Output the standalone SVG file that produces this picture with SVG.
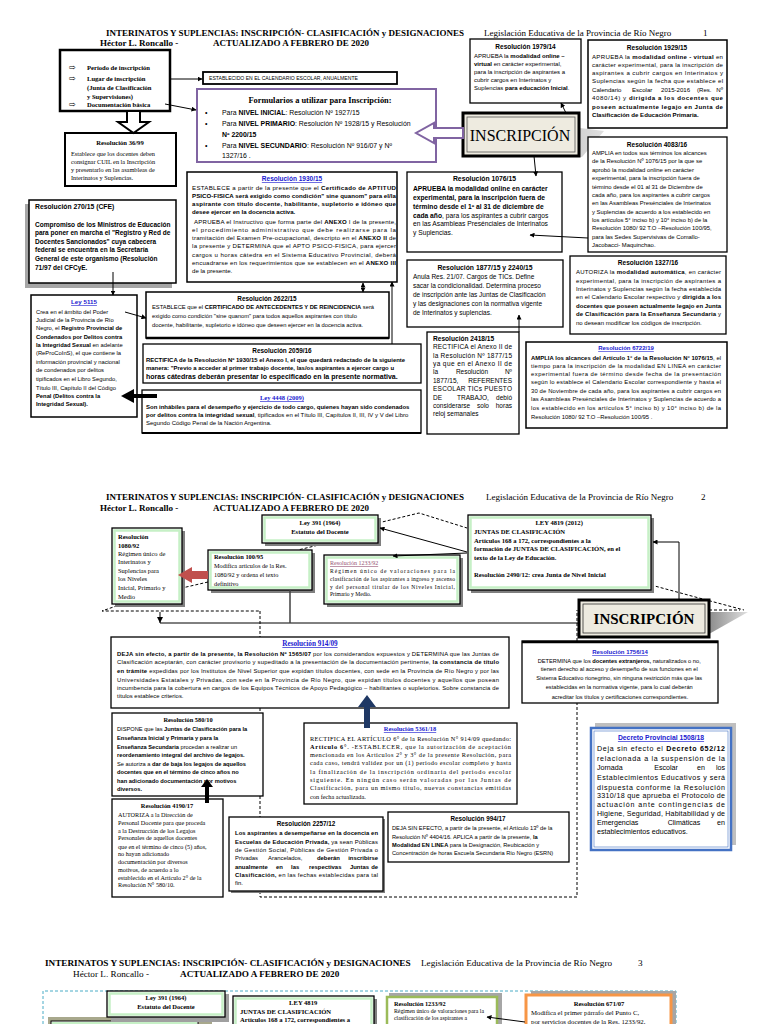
<svg xmlns="http://www.w3.org/2000/svg" width="768" height="1024" viewBox="0 0 768 1024">
<style>
.s{font-family:"Liberation Sans",Arial,sans-serif}
.t{font-family:"Liberation Serif","Times New Roman",serif}
.b{font-weight:bold}
.l{fill:#2020d0;text-decoration:underline}
.m{text-anchor:middle}
.e{text-anchor:end}
.bx{fill:#fff;stroke:#000;stroke-width:1.3}
.gb{fill:#fff;stroke:#000;stroke-width:1.3}
.gi{fill:none;stroke:#c6f0c6;stroke-width:2.5}
.sh{fill:#7f7f7f}
.ln{fill:none;stroke:#000;stroke-width:1}
.dl{fill:none;stroke:#000;stroke-width:1;stroke-dasharray:3 2}
</style>
<defs>
<marker id="ah" viewBox="0 0 10 10" refX="9" refY="5" markerWidth="5" markerHeight="5" orient="auto-start-reverse"><path d="M0,0 L10,5 L0,10 z"/></marker>
<linearGradient id="gs" x1="0" y1="0" x2="1" y2="0"><stop offset="0" stop-color="#8c8c8c"/><stop offset="1" stop-color="#e0e0e0"/></linearGradient>
</defs>
<rect width="768" height="1024" fill="#fff"/>

<!-- ================= PAGE 1 ================= -->
<g id="header1">
<text class="t b" x="106" y="36" font-size="9">INTERINATOS Y SUPLENCIAS: INSCRIPCIÓN- CLASIFICACIÓN y DESIGNACIONES</text>
<text class="t" x="484" y="36" font-size="9">Legislación Educativa de la Provincia de Río Negro</text>
<text class="t" x="703" y="36" font-size="9">1</text>
<text class="t b" x="100" y="46" font-size="9">Héctor L. Roncallo -</text>
<text class="t b" x="213" y="46" font-size="9">ACTUALIZADO A FEBRERO DE 2020</text>
</g>

<g id="n-periodo">
<rect x="60" y="50" width="110" height="61" fill="#fff" stroke="#000" stroke-width="2.5"/>
<text x="69" y="70" font-size="8" font-family="DejaVu Sans">⇨</text>
<text x="69" y="81" font-size="8" font-family="DejaVu Sans">⇨</text>
<text x="69" y="107" font-size="8" font-family="DejaVu Sans">⇨</text>
<text class="t b" font-size="6.6" x="87"><tspan x="87" y="70">Período de inscripción</tspan><tspan x="87" y="81">Lugar de inscripción</tspan><tspan x="87" y="90">(Junta de Clasificación</tspan><tspan x="87" y="99">y Supervisiones)</tspan><tspan x="87" y="107">Documentación básica</tspan></text>
</g>

<g id="n-calendario">
<rect x="203" y="72" width="194" height="12" fill="#fff" stroke="#000" stroke-width="1.8"/>
<text class="s" x="209" y="80" font-size="5.1">ESTABLECIDO EN EL CALENDARIO ESCOLAR, ANUALMENTE</text>
</g>

<g id="n-formularios">
<rect x="197" y="89" width="239" height="73" fill="#fff" stroke="#8064a2" stroke-width="2"/>
<text class="t b m" x="320" y="103" font-size="8.4">Formularios a utilizar para Inscripción:</text>
<text class="s" x="205" y="115" font-size="7">•</text>
<text class="s" x="205" y="126" font-size="7">•</text>
<text class="s" x="205" y="148" font-size="7">•</text>
<text class="s" font-size="6.9" x="222" y="115">Para <tspan class="b">NIVEL INICIAL</tspan>: Resolución Nº 1927/15</text>
<text class="s" font-size="6.9" x="222" y="126">Para <tspan class="b">NIVEL PRIMARIO</tspan>: Resolución Nº 1928/15 y Resolución</text>
<text class="s b" font-size="6.9" x="222" y="137">Nº 2200/15</text>
<text class="s" font-size="6.9" x="222" y="148">Para <tspan class="b">NIVEL SECUNDARIO</tspan>: Resolución Nº 916/07 y Nº</text>
<text class="s" font-size="6.9" x="222" y="158">1327/16 .</text>
</g>

<g id="n-36-99">
<rect x="65" y="133" width="111" height="53" fill="#fff" stroke="#000" stroke-width="2"/>
<text class="t b m" x="120" y="145" font-size="6.6">Resolución 36/99</text>
<text class="t" font-size="6.3"><tspan x="71" y="156">Establece que los docentes deben</tspan><tspan x="71" y="164">consignar CUIL en la Inscripción</tspan><tspan x="71" y="172">y presentarlo en las asambleas de</tspan><tspan x="71" y="180">Interinatos y Suplencias.</tspan></text>
</g>

<g id="n-1979-14">
<rect x="470" y="39" width="111" height="64" class="bx"/>
<text class="s b m" x="525.5" y="49" font-size="6.5">Resolución 1979/14</text>
<text class="s" font-size="6">
<tspan x="474" y="58">APRUEBA la <tspan class="b">modalidad online –</tspan></tspan>
<tspan x="474" y="66"><tspan class="b">virtual</tspan> en carácter experimental,</tspan>
<tspan x="474" y="74">para la inscripción de aspirantes a</tspan>
<tspan x="474" y="82">cubrir cargos en Interinatos y</tspan>
<tspan x="474" y="90">Suplencias <tspan class="b">para educación Inicial</tspan>.</tspan>
</text>
</g>

<g id="n-1929-15">
<rect x="588" y="40" width="139" height="88" fill="#fff" stroke="#000" stroke-width="1.5"/>
<text class="s b m" x="657" y="50" font-size="6.5">Resolución 1929/15</text>
<g class="s" font-size="6.1">
<text x="592" y="59" textLength="131">APRUEBA la <tspan class="b">modalidad online - virtual</tspan> en</text>
<text x="592" y="67" textLength="131">carácter experimental, para la inscripción de</text>
<text x="592" y="75" textLength="131">aspirantes a cubrir cargos en Interinatos y</text>
<text x="592" y="83" textLength="131">Suplencias según la fecha que establece el</text>
<text x="592" y="92">Calendario</text><text x="632" y="92">Escolar</text><text x="661" y="92">2015-2016</text><text x="697" y="92">(Res.</text><text class="e" x="723" y="92">Nº</text>
<text x="592" y="100" textLength="131">4080/14) y <tspan class="b">dirigida a los docentes que</tspan></text>
<text x="592" y="109" textLength="131" class="b">poseen actualmente legajo en Junta de</text>
<text x="592" y="117" class="b">Clasificación de Educación Primaria.</text>
</g>
</g>

<g id="n-inscripcion1">
<polygon points="466,157 582,157 604,131 580,128" fill="url(#gs)"/>
<rect x="463" y="113" width="116" height="43" fill="#eeebe0" stroke="#000" stroke-width="3"/>
<rect x="467" y="117" width="108" height="35" fill="none" stroke="#555" stroke-width="0.8"/>
<text class="t m" x="520" y="141" font-size="16">INSCRIPCIÓN</text>
<polygon points="463,128 434,128 434,123 416,133 434,143 434,138 463,138" fill="#fff" stroke="#8064a2" stroke-width="2"/>
</g>

<g id="n-4083-16">
<rect x="588" y="137" width="139" height="115" class="bx"/>
<text class="s b m" x="657" y="147" font-size="6.5">Resolución 4083/16</text>
<text class="s" font-size="5.9">
<tspan x="592" y="155">AMPLIA en todos sus términos los alcances</tspan>
<tspan x="592" y="163">de la Resolución Nº 1076/15 por la que se</tspan>
<tspan x="592" y="172">aprobó la modalidad online en carácter</tspan>
<tspan x="592" y="180">experimental, para la inscripción fuera de</tspan>
<tspan x="592" y="189">término desde el 01 al 31 de Diciembre de</tspan>
<tspan x="592" y="197">cada año, para los aspirantes a cubrir cargos</tspan>
<tspan x="592" y="205">en las Asambleas Presénciales de Interinatos</tspan>
<tspan x="592" y="214">y Suplencias de acuerdo a los establecido en</tspan>
<tspan x="592" y="222">los artículos 5° inciso b) y 10° inciso b) de la</tspan>
<tspan x="592" y="230">Resolución 1080/ 92 T.O –Resolución 100/95,</tspan>
<tspan x="592" y="239">para las Sedes Supervisivas de Comallo-</tspan>
<tspan x="592" y="247">Jacobacci- Maquinchao.</tspan>
</text>
</g>

<g id="n-1076-15">
<rect x="407" y="172" width="155" height="80" class="bx"/>
<text class="s b m" x="484.5" y="181" font-size="6.8">Resolución 1076/15</text>
<text class="s" font-size="6.7">
<tspan x="413" y="191" class="b">APRUEBA la modalidad online en carácter</tspan>
<tspan x="413" y="200" class="b">experimental, para la inscripción fuera de</tspan>
<tspan x="413" y="209" class="b">término desde el 1º al 31 de diciembre de</tspan>
<tspan x="413" y="218"><tspan class="b">cada año</tspan>, para los aspirantes a cubrir cargos</tspan>
<tspan x="413" y="226">en las Asambleas Presénciales de Interinatos</tspan>
<tspan x="413" y="235">y Suplencias.</tspan>
</text>
</g>

<g id="n-1877-15">
<rect x="407" y="260" width="156" height="67" class="bx"/>
<text class="s b m" x="485" y="270" font-size="6.8">Resolución 1877/15 y 2240/15</text>
<text class="s" font-size="6.5">
<tspan x="413" y="279">Anula Res. 21/07. Cargos de TICs. Define</tspan>
<tspan x="413" y="288">sacar la condicionalidad.  Determina proceso</tspan>
<tspan x="413" y="297">de inscripción ante las Juntas de Clasificación</tspan>
<tspan x="413" y="306">y las designaciones con la normativa vigente</tspan>
<tspan x="413" y="315">de Interinatos y suplencias.</tspan>
</text>
</g>

<g id="n-1327-16">
<rect x="570" y="256" width="156" height="78" class="bx"/>
<text class="s b m" x="648" y="265" font-size="6.5">Resolución 1327/16</text>
<g class="s" font-size="6">
<text x="576" y="274" textLength="145">AUTORIZA la <tspan class="b">modalidad automática</tspan>, en carácter</text>
<text x="576" y="283" textLength="145">experimental, para la inscripción de aspirantes a</text>
<text x="576" y="291" textLength="145">Interinatos y Suplencias según la fecha establecida</text>
<text x="576" y="299" textLength="145">en el Calendario Escolar respectivo y <tspan class="b">dirigida a los</tspan></text>
<text x="576" y="308" textLength="145" class="b">docentes que poseen actualmente legajo en Junta</text>
<text x="576" y="316" textLength="145"><tspan class="b">de Clasificación para la Enseñanza Secundaria</tspan> y</text>
<text x="576" y="325">no desean modificar los códigos de inscripción.</text>
</g>
</g>

<g id="n-2418-15">
<rect x="427" y="332" width="92" height="102" class="bx"/>
<text class="s b" x="433" y="341" font-size="6.6">Resolución 2418/15</text>
<g class="s" font-size="6.5">
<text x="433" y="349" textLength="79">RECTIFICA el Anexo II de</text>
<text x="433" y="358" textLength="79">la Resolución Nº 1877/15</text>
<text x="433" y="366" textLength="79">ya que en el Anexo II de</text>
<text x="433" y="374">la</text><text class="m" x="472" y="374">Resolución</text><text class="e" x="512" y="374">Nº</text>
<text x="433" y="383">1877/15,</text><text class="e" x="512" y="383">REFERENTES</text>
<text x="433" y="391" textLength="79">ESCOLAR TICs PUESTO</text>
<text x="433" y="400">DE</text><text class="m" x="473" y="400">TRABAJO,</text><text class="e" x="512" y="400">debió</text>
<text x="433" y="408">considerarse</text><text class="m" x="483" y="408">solo</text><text class="e" x="512" y="408">horas</text>
<text x="433" y="416">reloj semanales</text>
</g>
</g>

<g id="n-6722-19">
<rect x="526" y="342" width="201" height="86" fill="#fff" stroke="#000" stroke-width="1.5"/>
<text class="s b m l" x="626" y="350" font-size="6">Resolución 6722/19</text>
<g class="s" font-size="5.9">
<text x="531" y="360" textLength="190"><tspan class="b">AMPLIA los alcances del Artículo 1° de la Resolución N° 1076/15</tspan>, el</text>
<text x="531" y="368" textLength="190">tiempo para la inscripción de la modalidad EN LINEA en carácter</text>
<text x="531" y="376" textLength="190">experimental fuera de término desde fecha de la presentación</text>
<text x="531" y="384" textLength="190">según lo establece el Calendario Escolar correspondiente y hasta el</text>
<text x="531" y="393" textLength="190">30 de Noviembre de cada año, para los aspirantes a cubrir cargos en</text>
<text x="531" y="401" textLength="190">las Asambleas Presénciales de Interinatos y Suplencias de acuerdo a</text>
<text x="531" y="410" textLength="190">los establecido en los artículos 5° inciso b) y 10° inciso b) de la</text>
<text x="531" y="419">Resolución 1080/ 92 T.O –Resolución 100/95 .</text>
</g>
</g>

<g id="n-1930-15">
<rect x="187" y="172" width="210" height="110" fill="#fff" stroke="#000" stroke-width="1.5"/>
<text class="s b m l" x="292" y="181" font-size="6.5">Resolución 1930/15</text>
<g class="s" font-size="6.1">
<text x="192" y="190" textLength="204">ESTABLECE a partir de la presente que el <tspan class="b">Certificado de APTITUD</tspan></text>
<text x="192" y="198" textLength="204" class="b">PSICO-FISICA será exigido como condición" sine quanom" para el/la</text>
<text x="192" y="206" textLength="204" class="b">aspirante con título docente, habilitante, supletorio e idóneo que</text>
<text x="192" y="214" class="b">desee ejercer en la docencia activa.</text>
<text x="194" y="224" textLength="202">APRUEBA el Instructivo que forma parte del <tspan class="b">ANEXO</tspan> I de la presente,</text>
<text x="192" y="232" textLength="204">el procedimiento administrativo que debe realizarse para la</text>
<text x="192" y="240" textLength="204">tramitación del Examen Pre-ocupacional, descripto en el <tspan class="b">ANEXO II</tspan> de</text>
<text x="192" y="248" textLength="204">la presente y DETERMINA que el APTO PSICO-FISICA, para ejercer</text>
<text x="192" y="257" textLength="204">cargos u horas cátedra en el Sistema Educativo Provincial, deberá</text>
<text x="192" y="265" textLength="204">encuadrarse en los requerimientos que se establecen en el <tspan class="b">ANEXO III</tspan></text>
<text x="192" y="273">de la presente.</text>
</g>
</g>

<g id="n-270-15">
<rect x="25" y="204" width="147" height="84" fill="#a6a6a6"/>
<rect x="29" y="200" width="147" height="83" fill="#fff" stroke="#000" stroke-width="1.5"/>
<text class="s b" x="35" y="209" font-size="6.8">Resolución 270/15 (CFE)</text>
<text class="s b" font-size="6.5">
<tspan x="35" y="227">Compromiso de los Ministros de Educación</tspan>
<tspan x="35" y="235">para poner en marcha el "Registro y Red de</tspan>
<tspan x="35" y="244">Docentes Sancionados" cuya cabecera</tspan>
<tspan x="35" y="252">federal se encuentra en la Secretaría</tspan>
<tspan x="35" y="261">General de este organismo (Resolución</tspan>
<tspan x="35" y="270">71/97 del CFCyE.</tspan>
</text>
</g>

<g id="n-ley-5115">
<rect x="31" y="295" width="106" height="122" fill="#fff" stroke="#000" stroke-width="1.5"/>
<text class="s b m l" x="84" y="304" font-size="6.2">Ley 5115</text>
<text class="s" font-size="5.8">
<tspan x="36" y="314">Crea en el ámbito del Poder</tspan>
<tspan x="36" y="322">Judicial de la Provincia de Río</tspan>
<tspan x="36" y="330">Negro, el <tspan class="b">Registro Provincial de</tspan></tspan>
<tspan x="36" y="339" class="b">Condenados por Delitos contra</tspan>
<tspan x="36" y="347"><tspan class="b">la Integridad Sexual</tspan> en adelante</tspan>
<tspan x="36" y="355">(ReProCoInS), el que contiene la</tspan>
<tspan x="36" y="364">información provincial y nacional</tspan>
<tspan x="36" y="372">de condenados por delitos</tspan>
<tspan x="36" y="381">tipificados en el Libro Segundo,</tspan>
<tspan x="36" y="390">Título III, Capítulo II del Código</tspan>
<tspan x="36" y="398" class="b">Penal (Delitos contra la</tspan>
<tspan x="36" y="406" class="b">Integridad Sexual).</tspan>
</text>
</g>

<g id="n-2622-15">
<rect x="146" y="292" width="243" height="46" fill="#fff" stroke="#000" stroke-width="1.5"/>
<line x1="146" y1="338" x2="389" y2="338" stroke="#000" stroke-width="2.5"/>
<text class="s b m" x="267" y="301" font-size="6.4">Resolución 2622/15</text>
<text class="s" font-size="5.8">
<tspan x="152" y="309">ESTABLECE que el <tspan class="b">CERTIFICADO DE ANTECEDENTES Y DE REINCIDENCIA</tspan> será</tspan>
<tspan x="152" y="318">exigido como condición "sine quanom" para todos aquellos aspirantes con título</tspan>
<tspan x="152" y="327">docente, habilitante, supletorio e idóneo que deseen ejercer en la docencia activa.</tspan>
</text>
</g>

<g id="n-2059-16">
<rect x="143" y="344" width="278" height="39" class="bx"/>
<text class="s b m" x="282" y="353" font-size="6.4">Resolución 2059/16</text>
<text class="s b" font-size="5.95">
<tspan x="146" y="362">RECTIFICA de la Resolución Nº 1930/15 el Anexo I, el que quedará redactado de la siguiente</tspan>
<tspan x="146" y="370">manera: "Previo a acceder al primer trabajo docente, las/os aspirantes a ejercer cargo u</tspan>
</text>
<text class="s b" x="146" y="379" font-size="7">horas cátedras deberán  presentar lo especificado en la presente normativa.</text>
</g>

<g id="n-ley-4448">
<rect x="142" y="390" width="279" height="43" class="bx"/>
<line x1="142" y1="433" x2="421" y2="433" stroke="#000" stroke-width="2.2"/>
<text class="t b m l" x="282" y="400" font-size="6.5">Ley 4448 (2009)</text>
<text class="s" font-size="6">
<tspan x="146" y="409" class="b">Son inhábiles para el desempeño y ejercicio de todo cargo, quienes hayan sido condenados</tspan>
<tspan x="146" y="417"><tspan class="b">por delitos contra la integridad sexual</tspan>, tipificados en el Título III, Capítulos II, III, IV y V del Libro</tspan>
<tspan x="146" y="425">Segundo Código Penal de la Nación Argentina.</tspan>
</text>
</g>

<g id="connectors-p1">
<line class="ln" x1="170" y1="79" x2="202" y2="79" stroke-width="1.5" marker-end="url(#ah)"/>
<line class="ln" x1="165" y1="104" x2="196" y2="110" stroke-width="1.3" marker-end="url(#ah)"/>
<polygon points="127,111 140,111 140,122 149,122 133.5,133 118,122 127,122" fill="#fff" stroke="#000" stroke-width="2"/>
<line class="ln" x1="566" y1="113" x2="561" y2="103" marker-end="url(#ah)"/>
<line class="ln" x1="534" y1="156" x2="536" y2="176" marker-end="url(#ah)"/>
<line class="ln" x1="588" y1="238" x2="530" y2="235" marker-end="url(#ah)"/>
<line class="ln" x1="113" y1="272" x2="113" y2="295" marker-end="url(#ah)"/>
<line class="ln" x1="363" y1="283" x2="363" y2="292" marker-start="url(#ah)" marker-end="url(#ah)"/>
<line class="ln" x1="392" y1="344" x2="392" y2="282" marker-end="url(#ah)"/>
<line class="ln" x1="125" y1="312" x2="146" y2="318" marker-end="url(#ah)"/>
<line x1="157" y1="396" x2="132" y2="396" stroke="#000" stroke-width="4"/>
<polygon points="134,389 121,396 134,403" fill="#000"/>
<line class="ln" x1="519" y1="332" x2="519" y2="315" marker-end="url(#ah)"/>
</g>

<!-- ================= PAGE 2 ================= -->
<g id="header2">
<text class="t b" x="106" y="500" font-size="9">INTERINATOS Y SUPLENCIAS: INSCRIPCIÓN- CLASIFICACIÓN y DESIGNACIONES</text>
<text class="t" x="486" y="500" font-size="9">Legislación Educativa de la Provincia de Río Negro</text>
<text class="t" x="701" y="500" font-size="9">2</text>
<text class="t b" x="100" y="511" font-size="9">Héctor L. Roncallo -</text>
<text class="t b" x="213" y="511" font-size="9">ACTUALIZADO A FEBRERO DE 2020</text>
</g>

<g id="connectors-p2-dashed">
<polyline class="dl" points="378,523 419,513 467,528"/>
<line class="dl" x1="327" y1="543" x2="298" y2="550"/>
<line class="dl" x1="208" y1="582" x2="182" y2="588"/>
<polyline class="dl" points="122,604 102,611 260,611"/>
<path class="dl" d="M260,611 V637 M260,708 V713 M260,796 V817 M260,891 V897 H577 V703 M577,641 V610"/>
<polyline class="dl" points="651,585 699,598 744,610"/>
<line class="dl" x1="709" y1="610" x2="740" y2="610"/>
</g>

<g id="n-ley-391">
<rect x="265" y="518" width="116" height="28" class="sh"/>
<rect x="262" y="515" width="116" height="28" class="gb"/>
<rect x="264.5" y="517.5" width="111" height="23" class="gi"/>
<text class="t b m" x="320" y="525" font-size="6.5">Ley 391 (1964)</text>
<text class="t b m" x="320" y="534" font-size="6.5">Estatuto del Docente</text>
</g>

<g id="n-1080-92">
<rect x="115" y="531" width="70" height="76" class="sh"/>
<rect x="112" y="528" width="70" height="76" class="gb"/>
<rect x="114.5" y="530.5" width="65" height="71" class="gi"/>
<text class="t" font-size="6.5">
<tspan x="118" y="539" class="b">Resolución</tspan>
<tspan x="118" y="548" class="b">1080/92</tspan>
<tspan x="118" y="556">Régimen único de</tspan>
<tspan x="118" y="564">Interinatos y</tspan>
<tspan x="118" y="573">Suplencias para</tspan>
<tspan x="118" y="581">los Niveles</tspan>
<tspan x="118" y="590">Inicial, Primario y</tspan>
<tspan x="118" y="599">Medio</tspan>
</text>
</g>

<g id="n-100-95">
<rect x="211" y="553" width="104" height="40" class="sh"/>
<rect x="208" y="550" width="104" height="40" class="gb"/>
<rect x="210.5" y="552.5" width="99" height="35" class="gi"/>
<text class="t b" x="214" y="559" font-size="6.4">Resolución 100/95</text>
<text class="t" font-size="6.3">
<tspan x="214" y="568">Modifica artículos de la Res.</tspan>
<tspan x="214" y="577">1080/92 y ordena el texto</tspan>
<tspan x="214" y="586">definitivo</tspan>
</text>
</g>

<g id="n-1233-92">
<rect x="327" y="558" width="136" height="49" class="sh"/>
<rect x="324" y="555" width="136" height="49" class="gb"/>
<rect x="326.5" y="557.5" width="131" height="44" class="gi"/>
<text class="t" x="330" y="565" font-size="6" fill="#954f72" text-decoration="underline">Resolución 1233/92</text>
<g class="t" font-size="5.6">
<text x="330" y="573" textLength="125">Régimen único de valoraciones para la</text>
<text x="330" y="581" textLength="125">clasificación de los aspirantes a ingreso y ascenso</text>
<text x="330" y="589" textLength="125">y del personal titular de los Niveles Inicial,</text>
<text x="330" y="596">Primario y Medio.</text>
</g>
</g>

<g id="n-ley-4819">
<rect x="471" y="518" width="183" height="75" class="sh"/>
<rect x="468" y="515" width="183" height="75" class="gb"/>
<rect x="470.5" y="517.5" width="178" height="70" class="gi"/>
<text class="t b" font-size="6.6">
<tspan x="560" y="525" text-anchor="middle">LEY 4819 (2012)</tspan>
<tspan x="474" y="534">JUNTAS DE CLASIFICACIÓN</tspan>
<tspan x="474" y="543">Artículos 168 a 172, correspondientes a la</tspan>
<tspan x="474" y="551">formación de JUNTAS DE CLASIFICACIÓN, en el</tspan>
<tspan x="474" y="560">texto de la Ley de Educación.</tspan>
<tspan x="474" y="577">Resolución 2490/12: crea Junta de Nivel Inicial</tspan>
</text>
</g>

<g id="n-inscripcion2">
<polygon points="709,612 748,612 709,634" fill="url(#gs)"/>
<rect x="579" y="600" width="130" height="37" fill="#eeebe0" stroke="#000" stroke-width="3"/>
<rect x="583" y="604" width="122" height="29" fill="none" stroke="#333" stroke-width="0.8"/>
<text class="t b m" x="644" y="624" font-size="15">INSCRIPCIÓN</text>
</g>

<g id="n-914-09">
<rect x="111" y="637" width="398" height="71" class="bx"/>
<text class="t b m l" x="310" y="646" font-size="7.2">Resolución 914/09</text>
<g class="s" font-size="5.9">
<text x="117" y="656" textLength="382"><tspan class="b">DEJA  sin efecto, a partir de la presente, la Resolución Nº 1565/07</tspan> por los considerandos expuestos y DETERMINA que  las Juntas de</text>
<text x="117" y="664" textLength="382">Clasificación  aceptarán,  con  carácter provisorio y supeditado a la presentación de la documentación pertinente, <tspan class="b">la constancia de título</tspan></text>
<text x="117" y="673" textLength="382"><tspan class="b">en trámite</tspan> expedidas por los Institutos de Nivel Superior que expidan títulos docentes, con sede en la Provincia de Río Negro y por las</text>
<text x="117" y="682" textLength="382">Universidades Estatales y Privadas, con sede  en  la Provincia de Río Negro, que expidan títulos docentes y aquellos que posean</text>
<text x="117" y="690" textLength="382">incumbencia para la cobertura en cargos de los Equipos Técnicos de Apoyo Pedagógico – habilitantes o supletorios. Sobre constancia de</text>
<text x="117" y="698">títulos establece criterios.</text>
</g>
</g>

<g id="n-1756-14">
<rect x="522" y="641" width="196" height="62" class="bx"/>
<line x1="522" y1="642" x2="718" y2="642" stroke="#000" stroke-width="2.5"/>
<text class="s b m l" x="620" y="654" font-size="6">Resolución 1756/14</text>
<text class="s m" font-size="5.7">
<tspan x="620" y="663">DETERMINA que los <tspan class="b">docentes extranjeros,</tspan> naturalizados o no,</tspan>
<tspan x="620" y="671">tienen derecho al acceso y desempeño de sus funciones en el</tspan>
<tspan x="620" y="680">Sistema Educativo rionegrino, sin ninguna restricción más que las</tspan>
<tspan x="620" y="689">establecidas en la normativa vigente, para lo cual deberán</tspan>
<tspan x="620" y="699">acreditar los títulos y certificaciones correspondientes.</tspan>
</text>
</g>

<g id="n-580-10">
<rect x="112" y="713" width="151" height="83" class="bx"/>
<text class="t b m" x="188" y="722" font-size="6.4">Resolución 580/10</text>
<text class="s" font-size="5.7">
<tspan x="117" y="731">DISPONE que las <tspan class="b">Juntas de Clasificación para la</tspan></tspan>
<tspan x="117" y="740" class="b">Enseñanza Inicial y Primaria y   para la</tspan>
<tspan x="117" y="749"><tspan class="b">Enseñanza Secundaria</tspan> procedan a realizar un</tspan>
<tspan x="117" y="757" class="b">reordenamiento integral del archivo de legajos.</tspan>
<tspan x="117" y="766">Se autoriza a <tspan class="b">dar de baja los legajos de aquellos</tspan></tspan>
<tspan x="117" y="774" class="b">docentes que en el término de cinco años no</tspan>
<tspan x="117" y="783" class="b">han adicionado documentación por motivos</tspan>
<tspan x="117" y="791" class="b">diversos.</tspan>
</text>
</g>

<g id="n-4190-17">
<rect x="112" y="799" width="111" height="98" class="bx"/>
<text class="t b m" x="167" y="808" font-size="6.4">Resolución 4190/17</text>
<text class="t" font-size="6.2">
<tspan x="118" y="817">AUTORIZA a la Dirección de</tspan>
<tspan x="118" y="825">Personal Docente para que proceda</tspan>
<tspan x="118" y="833">a la Destrucción de los Legajos</tspan>
<tspan x="118" y="840">Personales de aquellos docentes</tspan>
<tspan x="118" y="849">que en el término de cinco (5) años,</tspan>
<tspan x="118" y="856">no hayan adicionado</tspan>
<tspan x="118" y="864">documentación por diversos</tspan>
<tspan x="118" y="872">motivos, de acuerdo a lo</tspan>
<tspan x="118" y="880">establecido en el Artículo 2° de la</tspan>
<tspan x="118" y="887">Resolución N° 580/10.</tspan>
</text>
</g>

<g id="n-5361-18">
<rect x="304" y="723" width="213" height="81" class="bx"/>
<text class="t b m l" x="410" y="731" font-size="6.4">Resolución 5361/18</text>
<g class="t" font-size="6.3">
<text x="310" y="741" textLength="201">RECTIFICA EL ARTÍCULO 6° de la Resolución N° 914/09 quedando:</text>
<text x="310" y="749" textLength="201"><tspan class="b">Artículo 6°</tspan>.   -ESTABLECER, que la autorización de aceptación</text>
<text x="310" y="757" textLength="201">mencionada en los Artículos 2° y 3° de la presente Resolución, para</text>
<text x="310" y="765" textLength="201">cada caso, tendrá validez por un (1) periodo escolar completo y hasta</text>
<text x="310" y="774" textLength="201">la finalización de la inscripción ordinaria del periodo escolar</text>
<text x="310" y="782" textLength="201">siguiente. En ningún caso serán valoradas por las Juntas de</text>
<text x="310" y="790" textLength="201">Clasificación, para un mismo título, nuevas constancias emitidas</text>
<text x="310" y="799">con fecha actualizada.</text>
</g>
</g>

<g id="n-2257-12">
<rect x="231" y="819" width="154" height="74" class="sh"/>
<rect x="229" y="817" width="154" height="74" class="bx"/>
<text class="s b m" x="306" y="826" font-size="6.3">Resolución 2257/12</text>
<g class="s" font-size="5.9">
<text x="235" y="835" textLength="143" class="b">Los aspirantes a desempeñarse en la docencia en</text>
<text x="235" y="844" textLength="143"><tspan class="b">Escuelas de Educación Privada,</tspan> ya sean Públicas</text>
<text x="235" y="852" textLength="143">de Gestión Social, Públicas de Gestión Privada o</text>
<text x="235" y="860">Privadas</text><text x="268" y="860">Arancelados,</text><text x="317" y="860" class="b">deberán</text><text class="e b" x="378" y="860">inscribirse</text>
<text x="235" y="869" class="b">anualmente</text><text x="276" y="869" class="b">en</text><text x="291" y="869" class="b">las</text><text x="309" y="869" class="b">respectivas</text><text x="350" y="869" class="b">Juntas</text><text class="e b" x="378" y="869">de</text>
<text x="235" y="877" textLength="143"><tspan class="b">Clasificación,</tspan> en las fechas establecidas para tal</text>
<text x="235" y="885">fin.</text>
</g>
</g>

<g id="n-994-17">
<rect x="388" y="812" width="181" height="50" class="bx"/>
<text class="s b m" x="478" y="821" font-size="6.3">Resolución 994/17</text>
<text class="s" font-size="5.7">
<tspan x="392" y="830">DEJA SIN EFECTO, a partir de la presente, el Artículo 13º de la</tspan>
<tspan x="392" y="839">Resolución Nº 4404/16. APLICA a partir de la presente, <tspan class="b">la</tspan></tspan>
<tspan x="392" y="847"><tspan class="b">Modalidad EN LINEA</tspan> para la Designación, Reubicación y</tspan>
<tspan x="392" y="855">Concentración de horas Escuela Secundaria Río Negro (ESRN)</tspan>
</text>
</g>

<g id="n-decreto-1508-18">
<rect x="595" y="723" width="141" height="122" fill="#bfbfbf"/>
<rect x="591" y="728" width="140" height="122" fill="#fff" stroke="#4472c4" stroke-width="2.5"/>
<rect x="594" y="731" width="134" height="116" fill="none" stroke="#4472c4" stroke-width="0.6"/>
<text class="s b m l" x="661" y="740" font-size="6.8">Decreto Provincial 1508/18</text>
<g class="s" font-size="7.1">
<text x="597" y="751" textLength="128">Deja sin efecto el <tspan class="b">Decreto 652/12</tspan></text>
<text x="597" y="761" textLength="128">relacionada a la suspensión de la</text>
<text x="597" y="770">Jornada</text><text class="m" x="666" y="770">Escolar</text><text class="m" x="701" y="770">en</text><text class="e" x="725" y="770">los</text>
<text x="597" y="780" textLength="128">Establecimientos Educativos y será</text>
<text x="597" y="790" textLength="128">dispuesta conforme la Resolución</text>
<text x="597" y="798" textLength="128">3310/18 que aprueba el Protocolo de</text>
<text x="597" y="807" textLength="128">actuación ante contingencias de</text>
<text x="597" y="816" textLength="128">Higiene, Seguridad, Habitabilidad y de</text>
<text x="597" y="825">Emergencias</text><text class="m" x="684" y="825">Climáticas</text><text class="e" x="725" y="825">en</text>
<text x="597" y="834">establecimientos educativos.</text>
</g>
</g>

<g id="connectors-p2">
<line class="ln" x1="467" y1="552" x2="380" y2="528" stroke-width="1.3" marker-end="url(#ah)"/>
<line class="ln" x1="467" y1="553" x2="393" y2="556" stroke-width="1.3" marker-end="url(#ah)"/>
<polygon points="208,571 192,571 192,567 178,575 192,583 192,579 208,579" fill="#c0504d"/>
<path class="ln" d="M160,612 V623 H579" stroke-width="1.3"/>
<polygon points="157,617 163,617 160,623" fill="#000"/>
<line x1="290" y1="590" x2="290" y2="623" stroke="#404040" stroke-width="1.5"/>
<path class="ln" d="M679,600 V542 H653" stroke-width="1" marker-end="url(#ah)"/>
<polygon points="364,728 370,728 370,707 376,707 367,695 358,707 364,707" fill="#1f3864"/>
<polygon points="205,803 209,803 209,787 213,787 207,779 201,787 205,787" fill="#000"/>
</g>

<!-- ================= PAGE 3 ================= -->
<g id="header3">
<text class="t b" x="45" y="966" font-size="9.2">INTERINATOS Y SUPLENCIAS: INSCRIPCIÓN- CLASIFICACIÓN y DESIGNACIONES</text>
<text class="t" x="421" y="966" font-size="9.2">Legislación Educativa de la Provincia de Río Negro</text>
<text class="t" x="638" y="966" font-size="9.2">3</text>
<text class="t" x="73" y="977" font-size="9.2">Héctor L. Roncallo -</text>
<text class="t b" x="180" y="977" font-size="9.2">ACTUALIZADO A FEBRERO DE 2020</text>
</g>

<g id="frame-p3">
<path d="M43,1024 V991 H676 V1024" fill="none" stroke="#4bacc6" stroke-width="1" stroke-dasharray="3 2"/>
<rect x="48" y="1017" width="164" height="10" fill="#a8a88c"/>
<rect x="51" y="1021" width="147" height="10" fill="#fff" stroke="#000" stroke-width="1"/>
<rect x="53" y="1023" width="143" height="6" fill="none" stroke="#c6f0c6" stroke-width="2"/>
</g>

<g id="n-ley-391-p3">
<rect x="111" y="994" width="118" height="28" fill="#a0a0a0"/>
<rect x="107" y="991" width="118" height="26" class="gb"/>
<rect x="109.5" y="993.5" width="113" height="21" class="gi"/>
<text class="t b m" x="166" y="1000" font-size="6.5">Ley 391 (1964)</text>
<text class="t b m" x="166" y="1009" font-size="6.5">Estatuto del Docente</text>
</g>

<g id="n-ley-4819-p3">
<rect x="236" y="999" width="141" height="40" class="sh"/>
<rect x="233" y="996" width="141" height="40" class="gb"/>
<rect x="235.5" y="998.5" width="136" height="35" class="gi"/>
<text class="t b" font-size="6.6">
<tspan x="304" y="1005" text-anchor="middle">LEY 4819</tspan>
<tspan x="240" y="1014">JUNTAS DE CLASIFICACIÓN</tspan>
<tspan x="240" y="1022">Artículos 168 a 172, correspondientes a</tspan>
</text>
</g>

<g id="n-1233-92-p3">
<rect x="389" y="993" width="113" height="40" fill="#a6a6a6"/>
<rect x="387" y="997" width="110" height="40" fill="#fff" stroke="#9bbb59" stroke-width="2.5"/>
<text class="t b" x="394" y="1006" font-size="6.3">Resolución 1233/92</text>
<text class="t" font-size="5.8">
<tspan x="394" y="1013">Régimen único de valoraciones para la</tspan>
<tspan x="394" y="1020">clasificación de los aspirantes a</tspan>
</text>
</g>

<g id="n-671-07-p3">
<rect x="531" y="991" width="145" height="40" fill="#a6a6a6"/>
<rect x="526" y="995" width="145" height="40" fill="#fff" stroke="#f79646" stroke-width="3"/>
<text class="t b m" x="599" y="1006" font-size="6.6">Resolución 671/07</text>
<text class="t" font-size="6.8">
<tspan x="531" y="1015">Modifica el primer párrafo del Punto C,</tspan>
<tspan x="531" y="1024">por servicios docentes de la Res. 1233/92,</tspan>
</text>
</g>

<g id="connectors-p3">
<line class="ln" x1="525" y1="1022" x2="487" y2="1017" stroke-width="1.5" marker-end="url(#ah)"/>
</g>
</svg>
